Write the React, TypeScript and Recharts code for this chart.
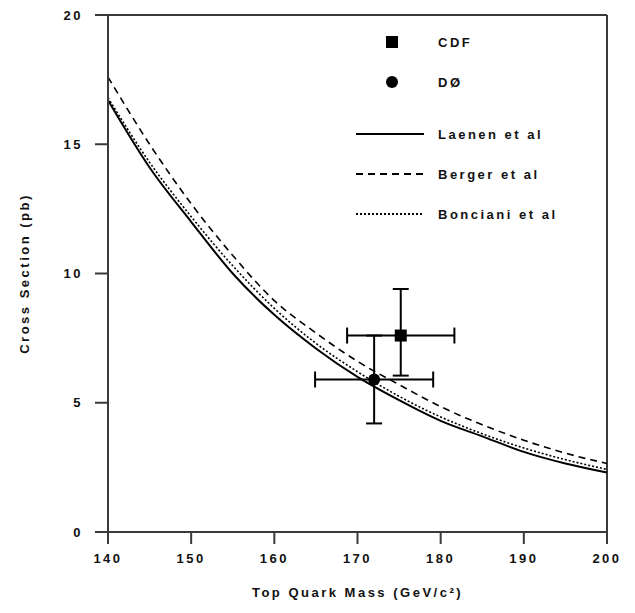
import React from 'react'
import {
  ComposedChart,
  Line,
  Scatter,
  ErrorBar,
  XAxis,
  YAxis,
  ReferenceLine,
} from 'recharts'

// Theory curves, every 5 GeV
const masses = [140, 145, 150, 155, 160, 165, 170, 175, 180, 185, 190, 195, 200]
const laenen = [16.7, 14.1, 12.0, 10.0, 8.4, 7.1, 6.0, 5.1, 4.3, 3.7, 3.1, 2.65, 2.3]
const berger = [17.6, 15.0, 12.7, 10.7, 8.95, 7.7, 6.6, 5.7, 4.85, 4.15, 3.55, 3.05, 2.65]
const bonciani = [16.8, 14.3, 12.2, 10.3, 8.65, 7.3, 6.2, 5.25, 4.45, 3.8, 3.25, 2.8, 2.42]

// Measurements
const cdfPoint = [{ mass: 175.2, xs: 7.6, massErr: 6.45, xsErr: [1.55, 1.8] }]
const d0Point = [{ mass: 172.0, xs: 5.9, massErr: 7.1, xsErr: [1.7, 1.7] }]

const xTicks = [140, 150, 160, 170, 180, 190, 200]
const yTicks = [0, 5, 10, 15, 20]

const curveData = masses.map((m, i) => ({
  mass: m,
  laenen: laenen[i],
  berger: berger[i],
  bonciani: bonciani[i],
}))

const axisColor = '#3a3a3a'
const font = { fontFamily: 'Liberation Sans, Arial, sans-serif', fontSize: 13, fontWeight: 700, letterSpacing: 2.5 }

const SquareShape = (props: any) => (
  <rect x={props.cx - 6} y={props.cy - 6} width={12} height={12} fill="#000" />
)
const CircleShape = (props: any) => <circle cx={props.cx} cy={props.cy} r={6} fill="#000" />

const legendRows = [
  { label: 'CDF', kind: 'square' },
  { label: 'DØ', kind: 'circle' },
  { label: 'Laenen et al', kind: 'line', dash: undefined },
  { label: 'Berger et al', kind: 'line', dash: '7 5' },
  { label: 'Bonciani et al', kind: 'line', dash: '2 2' },
]

// legend drawn over the plot, like the original figure
const ChartLegend = () => (
  <div style={{ ...font, color: '#111', position: 'absolute', left: 356, top: 22 }}>
    {legendRows.map((row, i) => (
      <div key={i} style={{ display: 'flex', alignItems: 'center', height: 40, marginTop: i === 2 ? 12 : 0 }}>
        <svg width={82} height={16}>
          {row.kind === 'square' && <rect x={30} y={2} width={12} height={12} fill="#000" />}
          {row.kind === 'circle' && <circle cx={36} cy={8} r={6} fill="#000" />}
          {row.kind === 'line' && (
            <line x1={0} y1={8} x2={68} y2={8} stroke="#000" strokeWidth={2} strokeDasharray={row.dash} />
          )}
        </svg>
        <span>{row.label}</span>
      </div>
    ))}
  </div>
)

export default function App() {
  return (
    <div style={{ width: 635, height: 613, background: '#fff', position: 'relative' }}>
      <style>{'body{margin:0}'}</style>
      <ComposedChart
        width={635}
        height={613}
        data={curveData}
        margin={{ top: 15, right: 28, left: 0, bottom: 0 }}
      >
        <XAxis
          dataKey="mass"
          type="number"
          domain={[140, 200]}
          ticks={xTicks}
          height={81}
          tickSize={12}
          tickMargin={10}
          stroke={axisColor}
          strokeWidth={2}
          tick={{ ...font, fill: '#111' }}
          label={{ value: 'Top Quark Mass (GeV/c²)', position: 'insideBottom', offset: 16, style: { ...font, fill: '#111' } }}
        />
        <YAxis
          type="number"
          domain={[0, 20]}
          ticks={yTicks}
          width={108}
          tickSize={13}
          tickMargin={12}
          stroke={axisColor}
          strokeWidth={2}
          tick={{ ...font, fill: '#111' }}
          label={{ value: 'Cross Section (pb)', angle: -90, position: 'insideLeft', offset: 24, style: { ...font, fill: '#111', textAnchor: 'middle' } }}
        />
        <ReferenceLine y={20} stroke={axisColor} strokeWidth={2} />
        <ReferenceLine x={200} stroke={axisColor} strokeWidth={2} />
        <Line dataKey="laenen" type="monotone" stroke="#000" strokeWidth={2} dot={false} isAnimationActive={false} />
        <Line dataKey="berger" type="monotone" stroke="#000" strokeWidth={1.6} strokeDasharray="7 5" dot={false} isAnimationActive={false} />
        <Line dataKey="bonciani" type="monotone" stroke="#000" strokeWidth={1.6} strokeDasharray="2 2" dot={false} isAnimationActive={false} />
        <Scatter data={cdfPoint} dataKey="xs" shape={SquareShape} isAnimationActive={false}>
          <ErrorBar dataKey="xsErr" direction="y" width={8} stroke="#000" strokeWidth={2} />
          <ErrorBar dataKey="massErr" direction="x" width={8} stroke="#000" strokeWidth={2} />
        </Scatter>
        <Scatter data={d0Point} dataKey="xs" shape={CircleShape} isAnimationActive={false}>
          <ErrorBar dataKey="xsErr" direction="y" width={8} stroke="#000" strokeWidth={2} />
          <ErrorBar dataKey="massErr" direction="x" width={8} stroke="#000" strokeWidth={2} />
        </Scatter>
      </ComposedChart>
      <ChartLegend />
    </div>
  )
}
